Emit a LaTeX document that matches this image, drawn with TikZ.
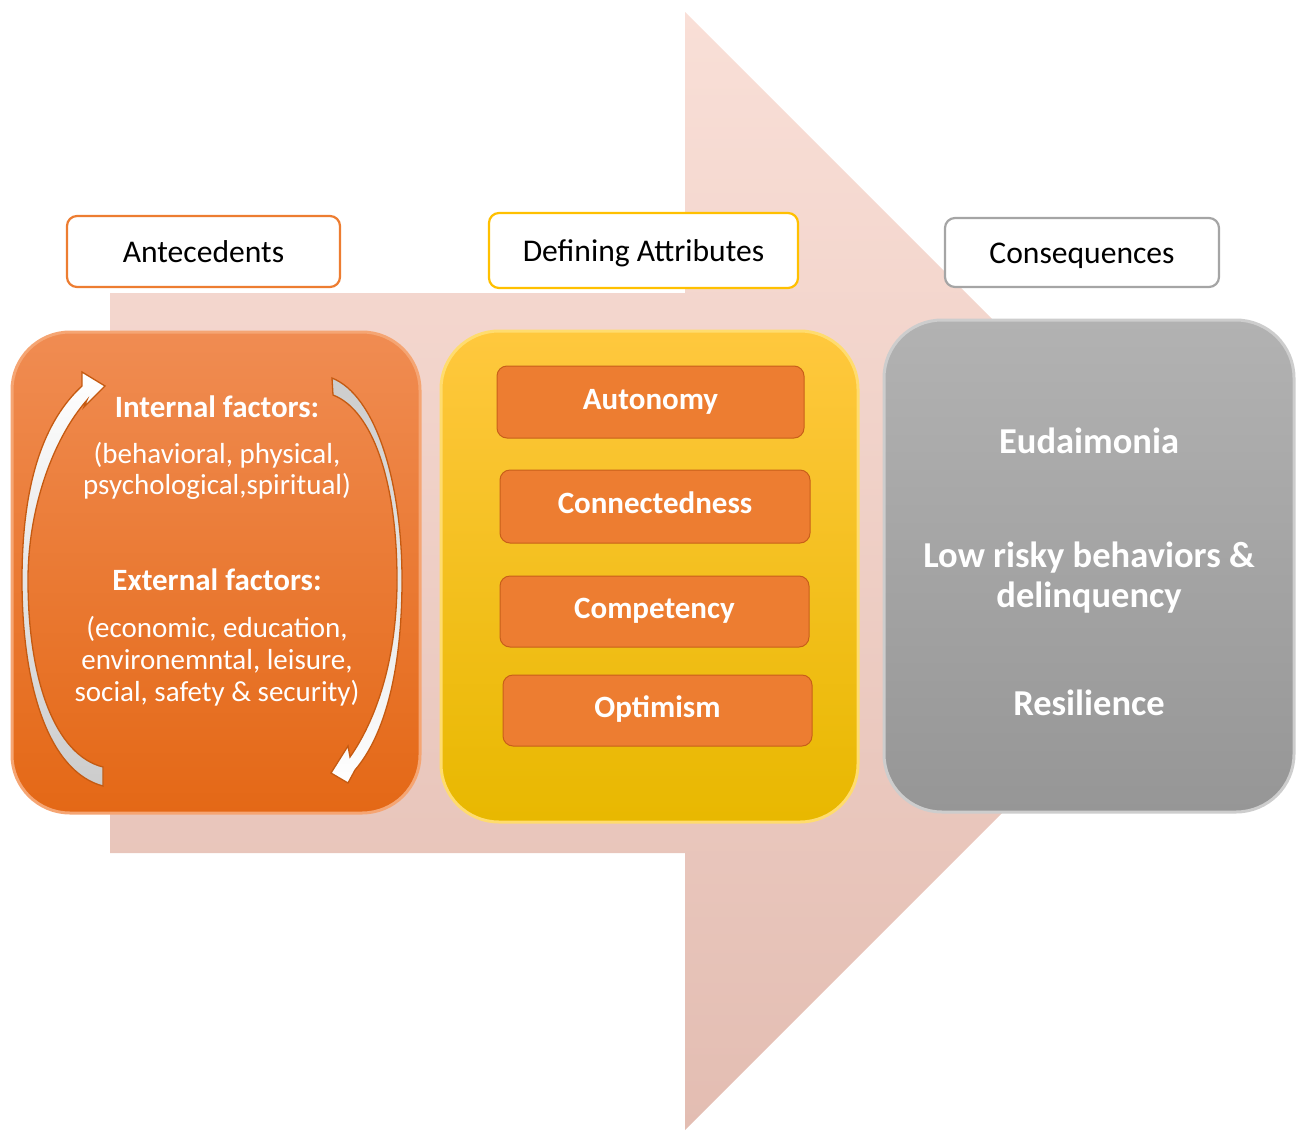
\documentclass[tikz,border=0pt]{standalone}
\usepackage{fontspec}
\setmainfont{Carlito}
\definecolor{arrowTop}{RGB}{249,223,215}
\definecolor{arrowBot}{RGB}{227,189,178}
\definecolor{orTop}{RGB}{240,140,82}
\definecolor{orMid}{RGB}{243,125,44}
\definecolor{orBot}{RGB}{228,104,22}
\definecolor{orEdge}{RGB}{245,165,115}
\definecolor{yeTop}{RGB}{255,200,62}
\definecolor{yeMid}{RGB}{255,198,0}
\definecolor{yeBot}{RGB}{232,184,0}
\definecolor{yeEdge}{RGB}{255,220,110}
\definecolor{grTop}{RGB}{178,178,178}
\definecolor{grMid}{RGB}{165,165,165}
\definecolor{grBot}{RGB}{150,150,150}
\definecolor{grEdge}{RGB}{205,205,205}
\definecolor{lblOrange}{RGB}{237,125,49}
\definecolor{lblYellow}{RGB}{255,192,0}
\definecolor{lblGrey}{RGB}{165,165,165}
\definecolor{attrFill}{RGB}{237,125,49}
\definecolor{attrLine}{RGB}{200,95,25}
\definecolor{cArrowLine}{RGB}{197,90,17}
\definecolor{cArrowGrey}{RGB}{204,204,204}
\begin{document}
\begin{tikzpicture}[x=1pt,y=-1pt,
  lbl/.style={draw, line width=2.2pt, rounded corners=10pt, fill=white, inner sep=0pt,
    font=\fontsize{31.6}{38}\selectfont, text=black, text height=25pt, text depth=4pt},
  attr/.style={draw=attrLine, fill=attrFill, line width=1pt, rounded corners=10pt, inner sep=0pt,
    font=\bfseries\fontsize{31}{37}\selectfont, text=white, text height=20pt, text depth=6pt},
  bigbox/.style={rounded corners=58pt, line width=3pt, inner sep=0pt},
  headtxt/.style={text=white, font=\bfseries\fontsize{31}{37}\selectfont, anchor=base, inner sep=0pt},
  bodytxt/.style={text=white, font=\fontsize{29}{31}\selectfont, anchor=base, inner sep=0pt},
  contxt/.style={text=white, font=\bfseries\fontsize{36.5}{41}\selectfont, anchor=base, inner sep=0pt},
  cycarrow/.style={draw=cArrowLine, line width=1.3pt, line join=miter}
]
\useasboundingbox (0,0) rectangle (1296,1130);

% big background arrow
\shade[top color=arrowTop, bottom color=arrowBot]
  (110,293) -- (685,293) -- (685,12) -- (1244,571) -- (685,1130) -- (685,853) -- (110,853) -- cycle;

% header labels
\node[lbl, draw=lblOrange, minimum width=273pt, minimum height=71pt] (lant) at (203.5,251.5) {Antecedents};
\node[lbl, draw=lblYellow, minimum width=309pt, minimum height=75pt] (ldef) at (643.5,250.5) {Defining Attributes};
\node[lbl, draw=lblGrey, minimum width=274pt, minimum height=69pt] (lcon) at (1082,252.5) {Consequences};

% big boxes
\node[bigbox, top color=orTop, middle color=orMid, bottom color=orBot, draw=orEdge,
  minimum width=408pt, minimum height=481pt] (ante) at (216,572.5) {};
\node[bigbox, top color=yeTop, middle color=yeMid, bottom color=yeBot, draw=yeEdge,
  minimum width=417pt, minimum height=491pt] (defn) at (649.5,576.5) {};
\node[bigbox, top color=grTop, middle color=grMid, bottom color=grBot, draw=grEdge,
  minimum width=410pt, minimum height=492pt] (cons) at (1089,566) {};

% cycle arrows in antecedents box
\path[cycarrow, top color=white, middle color=white!60!cArrowGrey, bottom color=cArrowGrey]
  (103,786) .. controls (50,772) and (22,690) .. (22,580)
  .. controls (22,480) and (45,420) .. (82,386)
  -- (82,372) -- (105,386) -- (84,407) -- (87,400)
  .. controls (52,440) and (28,510) .. (28,580)
  .. controls (28,680) and (55,755) .. (103,767) -- cycle;
\path[cycarrow, top color=cArrowGrey, middle color=white!60!cArrowGrey, bottom color=white]
  (332,378) .. controls (375,395) and (402,480) .. (402,580)
  .. controls (402,670) and (385,735) .. (355,770)
  -- (348,783) -- (331,773) -- (348,746) -- (350,757)
  .. controls (376,720) and (397,660) .. (397,580)
  .. controls (397,480) and (372,410) .. (333,395) -- cycle;

% antecedents text
\node[headtxt] (intf) at (217,417) {Internal factors:};
\node[bodytxt] (intd1) at (217,463) {(behavioral, physical,};
\node[bodytxt] (intd2) at (217,494) {psychological,spiritual)};
\node[headtxt] (extf) at (217,590) {External factors:};
\node[bodytxt] (extd1) at (217,637) {(economic, education,};
\node[bodytxt] (extd2) at (217,669) {environemntal, leisure,};
\node[bodytxt] (extd3) at (217,701) {social, safety \& security)};

% defining attributes
\node[attr, minimum width=307pt, minimum height=72pt] (auto) at (650.5,402) {Autonomy};
\node[attr, minimum width=310pt, minimum height=73pt] (conn) at (655,506.5) {Connectedness};
\node[attr, minimum width=309pt, minimum height=71pt] (comp) at (654.5,611.5) {Competency};
\node[attr, minimum width=309pt, minimum height=71pt] (opti) at (657.5,710.5) {Optimism};

% consequences text
\node[contxt] (eud) at (1089,453) {Eudaimonia};
\node[contxt] (low1) at (1089,567) {Low risky behaviors \&};
\node[contxt] (low2) at (1089,607) {delinquency};
\node[contxt] (res) at (1089,715) {Resilience};
\end{tikzpicture}
\end{document}
